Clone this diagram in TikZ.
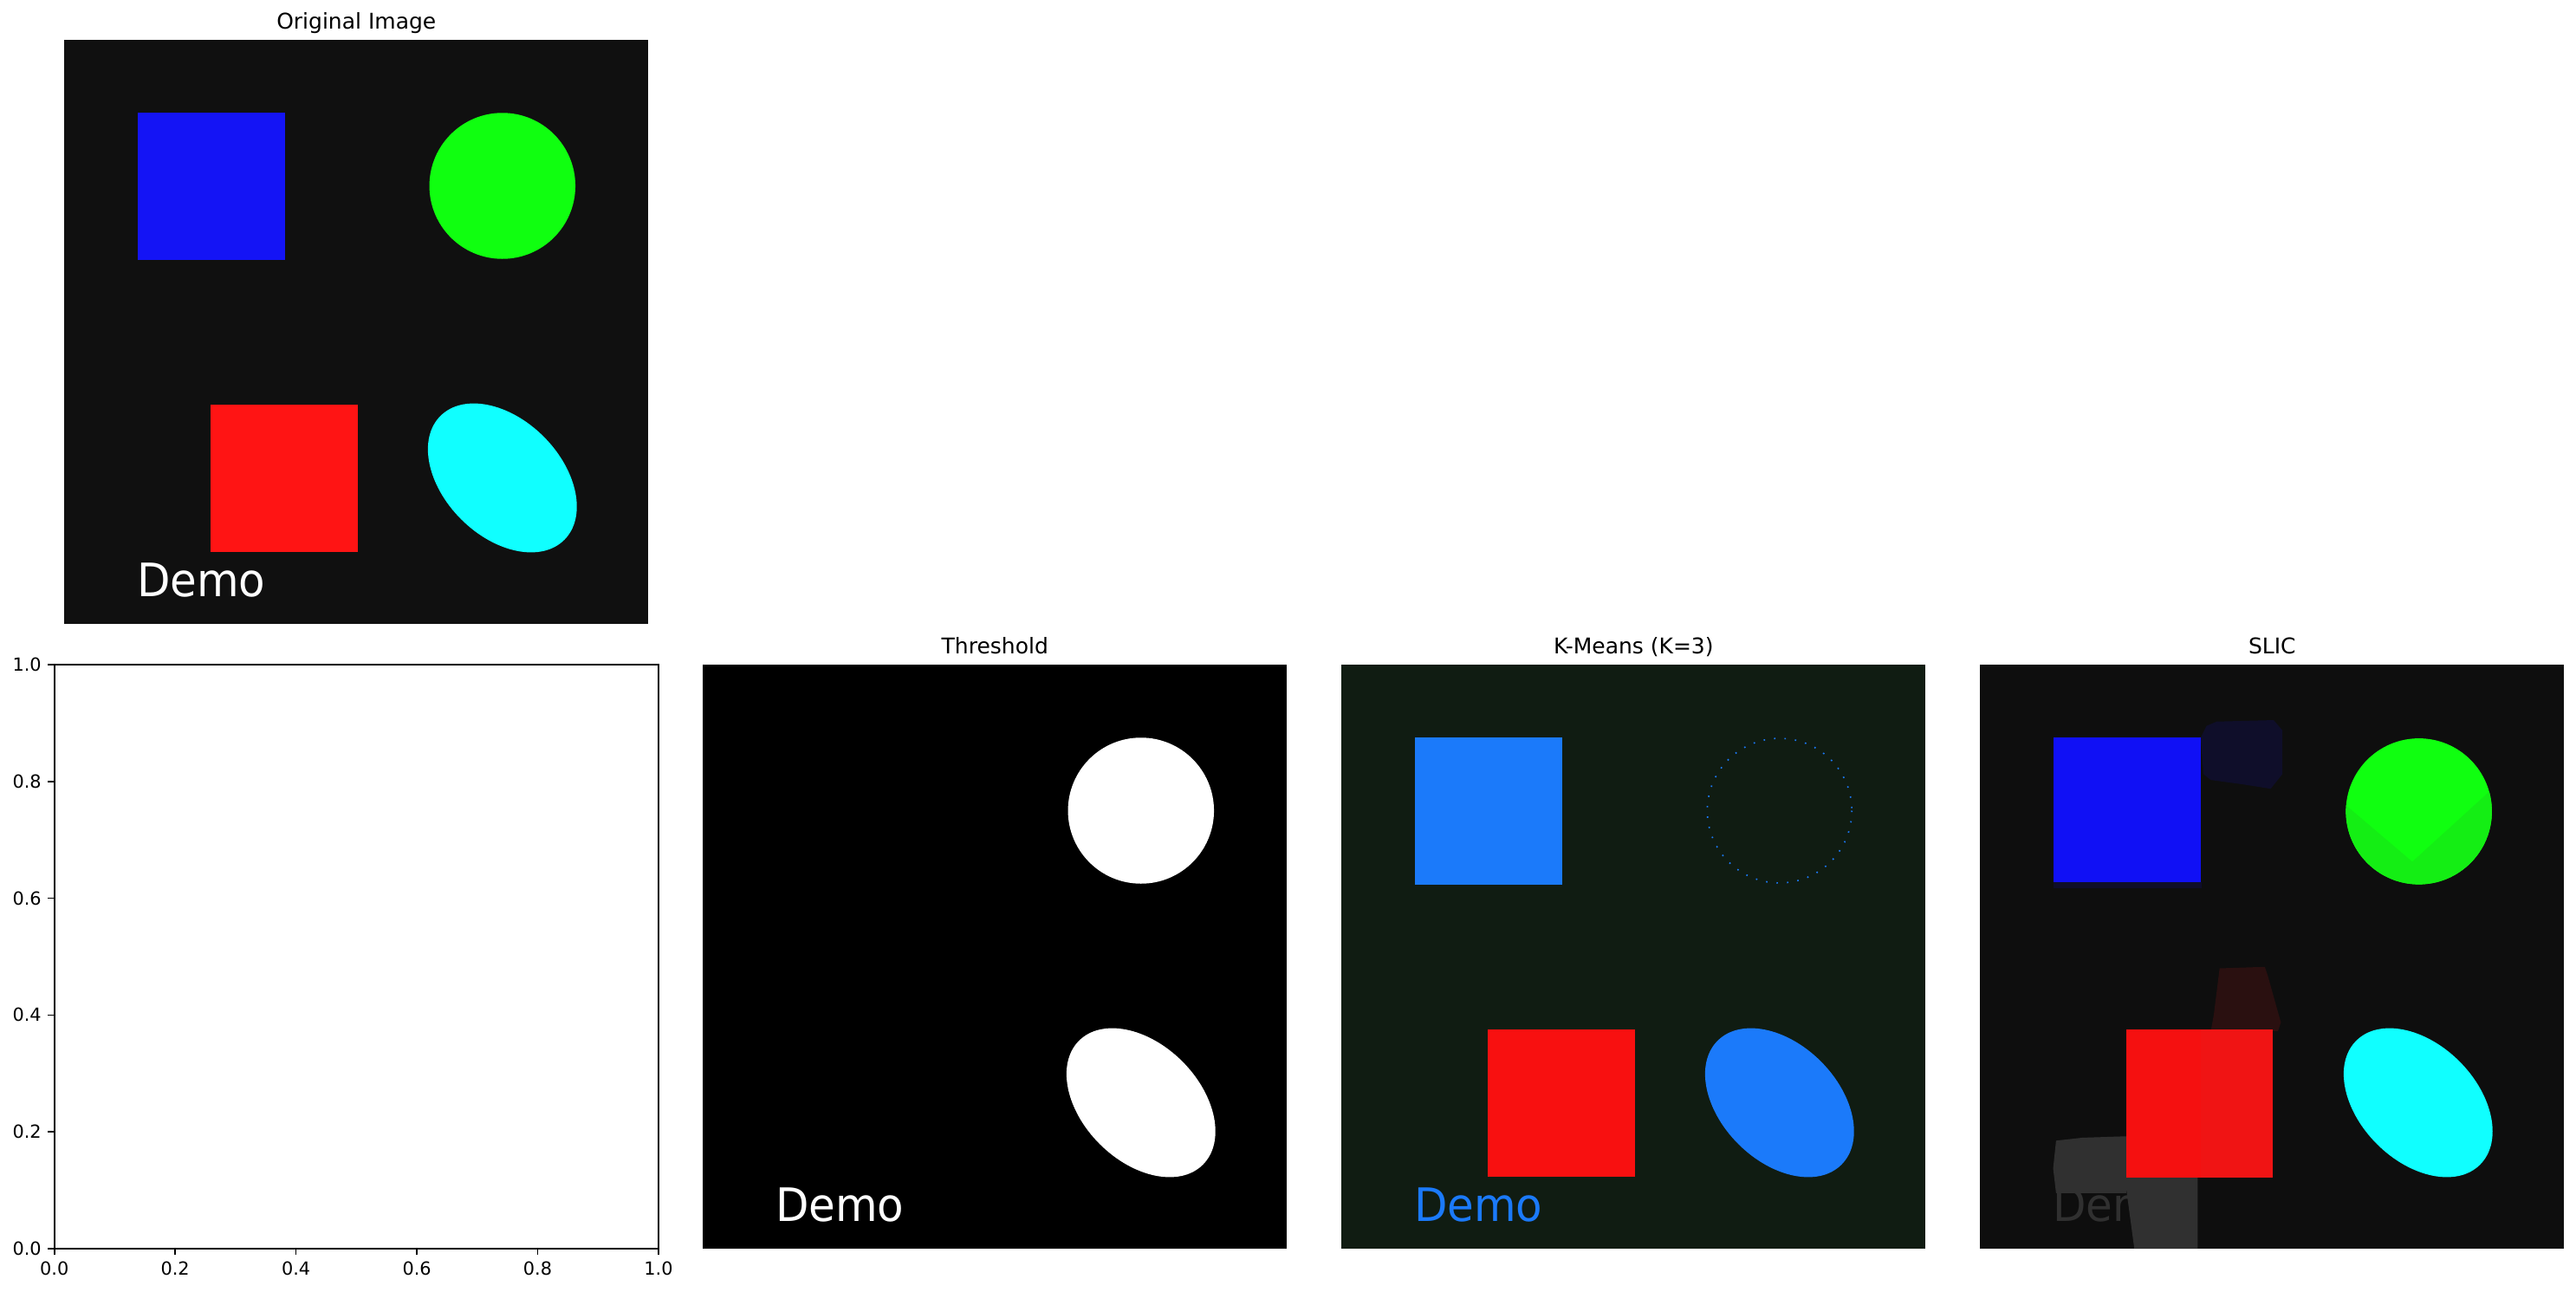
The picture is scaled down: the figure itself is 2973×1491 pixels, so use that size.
\documentclass[tikz,border=0pt]{standalone}
\usepackage{fontspec}
\setmainfont{DejaVu Sans}
\definecolor{origbg}{RGB}{16,16,16}
\definecolor{oblue}{RGB}{20,20,245}
\definecolor{ogreen}{RGB}{16,255,16}
\definecolor{ored}{RGB}{255,20,20}
\definecolor{ocyan}{RGB}{16,255,255}
\definecolor{kmbg}{RGB}{16,28,18}
\definecolor{kmblue}{RGB}{27,122,250}
\definecolor{kmred}{RGB}{248,16,16}
\definecolor{slbg}{RGB}{14,14,14}
\definecolor{slblue}{RGB}{16,16,245}
\definecolor{slgreen}{RGB}{16,255,16}
\definecolor{slgreenb}{RGB}{20,238,20}
\definecolor{slred}{RGB}{245,16,16}
\definecolor{slredb}{RGB}{240,20,20}
\definecolor{slcyan}{RGB}{16,255,255}
\definecolor{slnavy}{RGB}{15,14,42}
\definecolor{sldred}{RGB}{42,16,16}
\definecolor{slgray}{RGB}{48,48,48}
\tikzset{
  paneltitle/.style={anchor=base, inner sep=0pt, font=\fontsize{12}{14}\selectfont},
  demotext/.style={anchor=base west, inner sep=0pt, font=\fontsize{25.5}{26}\selectfont},
  ticklab/.style={inner sep=0pt, font=\fontsize{10}{12}\selectfont},
  spine/.style={draw=black, line width=0.8pt},
  tickmark/.style={draw=black, line width=0.8pt}
}
\begin{document}
\begin{tikzpicture}[x=0.48pt, y=-0.48pt]
\useasboundingbox (0,0) rectangle (2973,1491);
\fill[white] (0,0) rectangle (2973,1491);

% ---------- Original image ----------
\begin{scope}[shift={(74.3,46)}, scale=1.685]
  \fill[origbg] (0,0) rectangle (400,400);
  \fill[oblue] (50,50) rectangle (151,151);
  \fill[ogreen] (300,100) circle (50);
  \fill[ored] (100,250) rectangle (201,351);
  \fill[ocyan, rotate around={-45:(300,300)}] (300,300) ellipse [x radius=60, y radius=40];
  \node[demotext, text=white] (odemo) at (49.5,381.5) {\scalebox{0.94}[1]{Demo}};
\end{scope}
\node[paneltitle] (t1) at (411.3,33.5) {Original Image};

% ---------- Empty axes ----------
\path (62.7,767) coordinate (axtl) (760,1441) coordinate (axbr);
\draw[spine] (axtl) rectangle (axbr);
\foreach \i/\lab in {0/0.0,1/0.2,2/0.4,3/0.6,4/0.8,5/1.0}{
  \draw[tickmark] ({62.7+\i*139.46},1441) -- ({62.7+\i*139.46},1448.3);
  \node[ticklab, anchor=north] (xt\i) at ({62.7+\i*139.46},1455.6) {\lab};
  \draw[tickmark] (62.7,{1441-\i*134.8}) -- (55.4,{1441-\i*134.8});
  \node[ticklab, anchor=east] (yt\i) at (48.1,{1441-\i*134.8}) {\lab};
}

% ---------- Threshold ----------
\begin{scope}[shift={(811.3,767)}, scale=1.685]
  \fill[black] (0,0) rectangle (400,400);
  \fill[white] (300,100) circle (50);
  \fill[white, rotate around={-45:(300,300)}] (300,300) ellipse [x radius=60, y radius=40];
  \node[demotext, text=white] (tdemo) at (49.5,381.5) {\scalebox{0.94}[1]{Demo}};
\end{scope}
\node[paneltitle] (t2) at (1148.3,754.5) {Threshold};

% ---------- K-Means ----------
\begin{scope}[shift={(1548.3,767)}, scale=1.685]
  \fill[kmbg] (0,0) rectangle (400,400);
  \fill[kmblue] (50,50) rectangle (151,151);
  \draw[kmblue, line width=0.8pt, dash pattern=on 0.8pt off 5pt] (300,100) circle (49.5);
  \fill[kmred] (100,250) rectangle (201,351);
  \fill[kmblue, rotate around={-45:(300,300)}] (300,300) ellipse [x radius=60, y radius=40];
  \node[demotext, text=kmblue] (kdemo) at (49.5,381.5) {\scalebox{0.94}[1]{Demo}};
\end{scope}
\node[paneltitle] (t3) at (1885.3,754.5) {K-Means (K=3)};

% ---------- SLIC ----------
\begin{scope}[shift={(2285.3,767)}, scale=1.685]
  \fill[slbg] (0,0) rectangle (400,400);
  \fill[slnavy] (162,39) -- (201,38) -- (207,45) -- (207,75) -- (199,85) -- (180,82)
     -- (158,79) -- (153,75) -- (151,50) -- (155,42) -- cycle;
  \fill[slnavy] (50,149) rectangle (152,153);
  \fill[slblue] (50,50) rectangle (151,149);
  \begin{scope}
    \clip (300.5,100.5) circle (50);
    \fill[slgreen] (240,40) rectangle (360,160);
    \fill[slgreenb] (249,95) -- (296,135) -- (352,84) -- (352,160) -- (249,160) -- cycle;
  \end{scope}
  \fill[sldred] (164,208) -- (195,207) -- (197,213) -- (204,238) -- (206,245) -- (204,251)
     -- (158,251) -- (160,240) -- cycle;
  \fill[slgray] (52,326) -- (70,324) -- (100,323) -- (100,362) -- (52,362) -- (50,345) -- cycle;
  \fill[slgray] (99,351) -- (149,351) -- (149,400) -- (105.6,400) -- cycle;
  \begin{scope}
    \clip (40,330) rectangle (101.5,395);
    \node[demotext, text=slgray] (sdemo) at (49.5,381.5) {\scalebox{0.94}[1]{Demo}};
  \end{scope}
  \fill[slred] (100,250) rectangle (151,351.6);
  \fill[slredb] (151,250) rectangle (200.5,351.6);
  \fill[slcyan, rotate around={-45:(300,300)}] (300,300) ellipse [x radius=60, y radius=40];
\end{scope}
\node[paneltitle] (t4) at (2622.3,754.5) {SLIC};
\end{tikzpicture}
\end{document}
